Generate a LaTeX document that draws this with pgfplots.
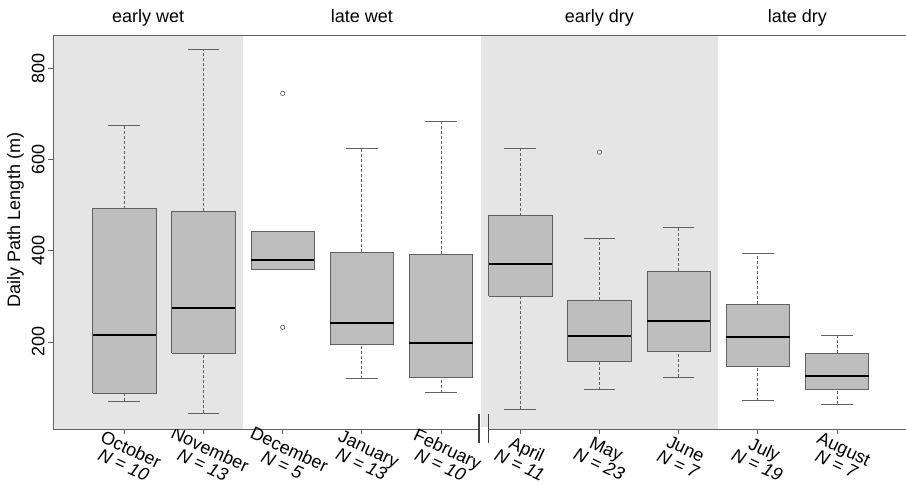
\documentclass[border=0pt]{standalone}
\usepackage{fontspec}
\setmainfont{Liberation Sans}
\usepackage{pgfplots}
\pgfplotsset{compat=1.18}

\definecolor{seasonbg}{gray}{0.898}
\definecolor{boxgray}{gray}{0.745}
\definecolor{edgegray}{gray}{0.38}

\begin{document}
\begin{tikzpicture}
\begin{axis}[
  width=853pt, height=394pt, scale only axis,
  xmin=0.1, xmax=10.87, ymin=9, ymax=873,
  axis x line*=bottom, axis y line*=left,
  axis line style={-, edgegray, line width=0.8pt},
  tick align=outside, major tick length=5pt,
  tick style={edgegray, line width=0.8pt},
  xtick={1,...,10},
  xticklabels={
    {October\\\textit{N = 10}},
    {November\\\textit{N = 13}},
    {December\\\textit{N = 5}},
    {January\\\textit{N = 13}},
    {February\\\textit{N = 10}},
    {April\\\textit{N = 11}},
    {May\\\textit{N = 23}},
    {June\\\textit{N = 7}},
    {July\\\textit{N = 19}},
    {August\\\textit{N = 7}}},
  ytick={200,400,600,800},
  /pgf/number format/assume math mode=true,
  tick label style={font=\fontsize{18}{17}\selectfont},
  yticklabel style={rotate=90, anchor=south},
  xticklabel style={xshift=11pt, yshift=-6pt, rotate=-25, anchor=north, align=center},
  clip=false,
  unbounded coords=jump,
]
% season backgrounds
\fill[seasonbg] (axis cs:0.1,9) rectangle (axis cs:2.5,871);
\fill[seasonbg] (axis cs:5.5,9) rectangle (axis cs:8.5,871);
% frame: left and top lines
\draw[edgegray, line width=0.8pt] (rel axis cs:0,0) -- (rel axis cs:0,1) -- (rel axis cs:1,1);

% whiskers (dashed), quartile to whisker end
\addplot[edgegray, line width=0.8pt, dash pattern=on 3pt off 2pt] coordinates {
  (1,70) (1,88) (nan,nan) (1,492) (1,675) (nan,nan)
  (2,43) (2,175) (nan,nan) (2,486) (2,842) (nan,nan)
  (4,119) (4,194) (nan,nan) (4,397) (4,625) (nan,nan)
  (5,89) (5,123) (nan,nan) (5,392) (5,683) (nan,nan)
  (6,52) (6,300) (nan,nan) (6,477) (6,624) (nan,nan)
  (7,95) (7,157) (nan,nan) (7,292) (7,428) (nan,nan)
  (8,123) (8,180) (nan,nan) (8,355) (8,451) (nan,nan)
  (9,71) (9,146) (nan,nan) (9,283) (9,394) (nan,nan)
  (10,63) (10,96) (nan,nan) (10,175) (10,215)
};

% whisker caps
\addplot[only marks, mark=-, mark size=15.8pt, mark options={solid, edgegray, line width=0.8pt}]
  coordinates {(1,70) (1,675) (2,43) (2,842) (4,119) (4,625) (5,89) (5,683)
               (6,52) (6,624) (7,95) (7,428) (8,123) (8,451) (9,71) (9,394)
               (10,63) (10,215)};

% boxes, lower to upper quartile
\addplot[draw=edgegray, fill=boxgray, line width=0.8pt] coordinates {
  (0.6,88) (1.4,88) (1.4,492) (0.6,492) (0.6,88) (nan,nan)
  (1.6,175) (2.4,175) (2.4,486) (1.6,486) (1.6,175) (nan,nan)
  (2.6,360) (3.4,360) (3.4,442) (2.6,442) (2.6,360) (nan,nan)
  (3.6,194) (4.4,194) (4.4,397) (3.6,397) (3.6,194) (nan,nan)
  (4.6,123) (5.4,123) (5.4,392) (4.6,392) (4.6,123) (nan,nan)
  (5.6,300) (6.4,300) (6.4,477) (5.6,477) (5.6,300) (nan,nan)
  (6.6,157) (7.4,157) (7.4,292) (6.6,292) (6.6,157) (nan,nan)
  (7.6,180) (8.4,180) (8.4,355) (7.6,355) (7.6,180) (nan,nan)
  (8.6,146) (9.4,146) (9.4,283) (8.6,283) (8.6,146) (nan,nan)
  (9.6,96) (10.4,96) (10.4,175) (9.6,175) (9.6,96)
};

% medians
\addplot[black, line width=2pt] coordinates {
  (0.6,216) (1.4,216) (nan,nan) (1.6,274) (2.4,274) (nan,nan)
  (2.6,380) (3.4,380) (nan,nan) (3.6,241) (4.4,241) (nan,nan)
  (4.6,198) (5.4,198) (nan,nan) (5.6,370) (6.4,370) (nan,nan)
  (6.6,213) (7.4,213) (nan,nan) (7.6,245) (8.4,245) (nan,nan)
  (8.6,210) (9.4,210) (nan,nan) (9.6,126) (10.4,126)
};

% outliers
\addplot[only marks, mark=o, mark size=2.2pt, mark options={edgegray, line width=0.6pt}]
  coordinates {(3,745) (3,232) (7,616)};

% axis break on x
\fill[white] ([yshift=-2pt]axis cs:5.48,9) rectangle ([yshift=2pt]axis cs:5.6,9);
\draw[black!75, line width=1.3pt] ([yshift=-14pt]axis cs:5.48,9) -- ([yshift=15pt]axis cs:5.48,9);
\draw[black!75, line width=1.3pt] ([yshift=-14pt]axis cs:5.6,9) -- ([yshift=15pt]axis cs:5.6,9);

% season labels
\node[anchor=base, font=\fontsize{18}{20}\selectfont] at ([yshift=12pt]axis cs:1.3,873) {early wet};
\node[anchor=base, font=\fontsize{18}{20}\selectfont] at ([yshift=12pt]axis cs:4,873) {late wet};
\node[anchor=base, font=\fontsize{18}{20}\selectfont] at ([yshift=12pt]axis cs:7,873) {early dry};
\node[anchor=base, font=\fontsize{18}{20}\selectfont] at ([yshift=12pt]axis cs:9.5,873) {late dry};
\end{axis}
\node[rotate=90, font=\fontsize{18}{20}\selectfont]
  at ([xshift=-37.5pt, yshift=12pt]current axis.west) {Daily Path Length (m)};
\pgfresetboundingbox
\path[use as bounding box] ([xshift=-53pt,yshift=-54pt]current axis.south west)
  rectangle ([yshift=35pt]current axis.north east);
\end{tikzpicture}
\end{document}
